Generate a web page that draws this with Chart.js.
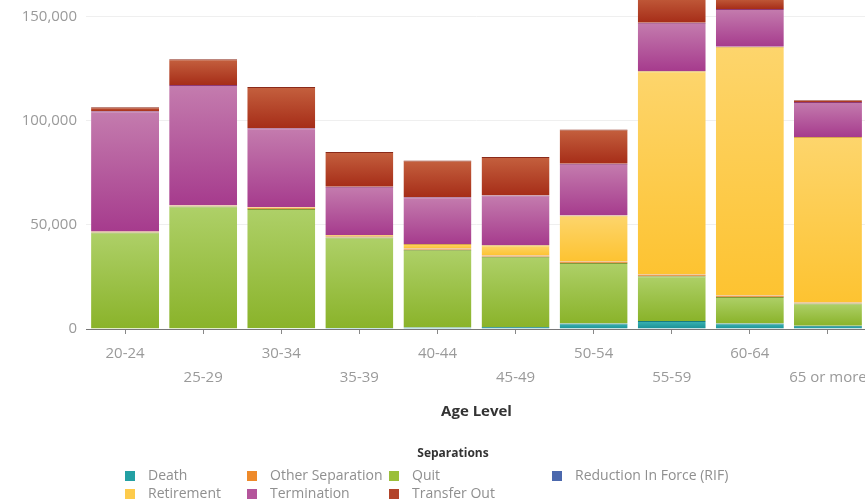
<!DOCTYPE html>
<html>
<head>
<meta charset="utf-8">
<script src="https://cdn.jsdelivr.net/npm/chart.js@4.4.1/dist/chart.umd.min.js"></script>
<style>
  html, body { margin: 0; padding: 0; overflow: hidden; background: #fff; width: 865px; height: 502px; }
  #wrap { position: absolute; left: 0; top: -34px; }
  #legend { position: absolute; left: 0; top: 0; width: 865px; height: 502px; pointer-events: none;
            font-family: "Open Sans", sans-serif; font-size: 14px; color: #8f8f8f; }
  #legend .t { position: absolute; font-weight: bold; color: #333; font-size: 12px; width: 120px; text-align: center; }
  #legend .it { position: absolute; white-space: nowrap; line-height: 16px; }
  #legend .it i { display: inline-block; width: 10px; height: 10px; margin-right: 13px; vertical-align: -1px; }
</style>
</head>
<body>
<div id="wrap"><canvas id="mainChart" width="867" height="455"></canvas></div>
<div id="legend"></div>
<script>
const ageLevels = ['20-24', '25-29', '30-34', '35-39', '40-44', '45-49', '50-54', '55-59', '60-64', '65 or more'];

// separations by type, stacked bottom to top
const death        = [200, 300, 400, 500, 700, 1000, 2600, 3900, 2600, 1600];
const quit         = [46200, 58500, 57300, 43500, 37400, 33700, 29100, 21500, 12800, 10600];
const otherSep     = [400, 500, 600, 600, 600, 600, 700, 800, 700, 500];
const rif          = [0, 0, 0, 0, 0, 0, 0, 0, 0, 0];
const retirement   = [0, 100, 300, 600, 2100, 5000, 22100, 97700, 119500, 79500];
const termination  = [57800, 57800, 37900, 23200, 22500, 23800, 24900, 23300, 18100, 16900];
const transferOut  = [1900, 12400, 19800, 16600, 17700, 18500, 16500, 13500, 5500, 800];

const yTicks = [0, 50000, 100000, 150000];

const series = [
    { label: 'Death', data: death, color: '#23a0a3', light: '#3bb5b5', dark: '#1a8f94', line: '#167c80' },
    { label: 'Quit', data: quit, color: '#9bbf3a', light: '#aed068', dark: '#8ab32a', line: '#7f9c3a' },
    { label: 'Other Separation', data: otherSep, color: '#ee8a2a', light: '#f29a40', dark: '#e07a20', line: '#c46a1c' },
    { label: 'Reduction In Force (RIF)', data: rif, color: '#4b68ad', light: '#5a78bd', dark: '#3f5c9f', line: '#334e8a' },
    { label: 'Retirement', data: retirement, color: '#fdcb4c', light: '#fdd56c', dark: '#fdc331', line: '#d9a84a' },
    { label: 'Termination', data: termination, color: '#b4559b', light: '#c47cae', dark: '#a63b8d', line: '#8e3a78' },
    { label: 'Transfer Out', data: transferOut, color: '#b2442a', light: '#c4603e', dark: '#a62d18', line: '#8a2a1a' }
];

function segmentFill(s, di) {
    return (c) => {
        const chart = c.chart;
        const y = chart.scales && chart.scales.y;
        if (c.type !== 'data' || !chart.chartArea || !y) return s.color;
        let base = 0;
        for (let k = 0; k < di; k++) base += series[k].data[c.dataIndex];
        const y0 = y.getPixelForValue(base);
        const y1 = y.getPixelForValue(base + s.data[c.dataIndex]);
        if (!isFinite(y0) || !isFinite(y1) || y0 - y1 < 1) return s.color;
        const g = chart.ctx.createLinearGradient(0, y1, 0, y0);
        g.addColorStop(0, s.light);
        g.addColorStop(1, s.dark);
        return g;
    };
}

const ctx = document.getElementById('mainChart').getContext('2d');

new Chart(ctx, {
    type: 'bar',
    data: {
        labels: ageLevels,
        datasets: series.map((s, i) => ({
            label: s.label,
            data: s.data,
            backgroundColor: segmentFill(s, i),
            borderColor: s.line,
            borderWidth: { top: 1, left: 0, right: 0, bottom: 0 },
            borderSkipped: false,
            barPercentage: 0.87,
            categoryPercentage: 1
        }))
    },
    options: {
        responsive: false,
        animation: false,
        layout: { padding: { top: 30, left: 0, right: 0, bottom: 0 } },
        plugins: { legend: { display: false }, tooltip: { enabled: false } },
        scales: {
            x: {
                stacked: true,
                afterFit: (s) => { s.height = 92; s.paddingLeft = 0; s.paddingRight = 0; },
                border: { display: true, color: '#777', width: 1 },
                grid: { offset: false, drawOnChartArea: false, color: '#888', tickLength: 5 },
                ticks: {
                    color: '#9a9a9a',
                    padding: 7,
                    maxRotation: 0,
                    autoSkip: false,
                    font: { family: 'Open Sans', size: 15, lineHeight: 1.65 },
                    callback: function (v, i) {
                        const l = this.getLabelForValue(v);
                        return i % 2 ? ['', l] : l;
                    }
                },
                title: {
                    display: true,
                    text: 'Age Level',
                    color: '#333',
                    padding: { top: 0, bottom: 0 },
                    font: { family: 'Open Sans', size: 15, weight: 'bold' }
                }
            },
            y: {
                stacked: true,
                min: 0,
                max: 160000,
                afterFit: (s) => { s.width = 86; },
                afterBuildTicks: (s) => { s.ticks = yTicks.map(v => ({ value: v })); },
                border: { display: false },
                grid: { color: '#efefef', drawTicks: false },
                ticks: {
                    color: '#9a9a9a',
                    padding: 9,
                    includeBounds: false,
                    font: { family: 'Open Sans', size: 15 },
                    callback: (v) => v.toLocaleString('en-US')
                }
            }
        }
    }
});

// legend laid out in a grid, like the original
const legendCols = [125, 247, 389, 552];
const legendOrder = ['Death', 'Other Separation', 'Quit', 'Reduction In Force (RIF)', 'Retirement', 'Termination', 'Transfer Out'];
const legend = document.getElementById('legend');
const title = document.createElement('div');
title.className = 't';
title.textContent = 'Separations';
title.style.left = '393px';
title.style.top = '444px';
legend.appendChild(title);
legendOrder.forEach((name, i) => {
    const s = series.find(d => d.label === name);
    const el = document.createElement('div');
    el.className = 'it';
    el.style.left = legendCols[i % 4] + 'px';
    el.style.top = (467 + Math.floor(i / 4) * 18) + 'px';
    el.innerHTML = '<i style="background:' + s.color + '"></i>' + name;
    legend.appendChild(el);
});
</script>
</body>
</html>
